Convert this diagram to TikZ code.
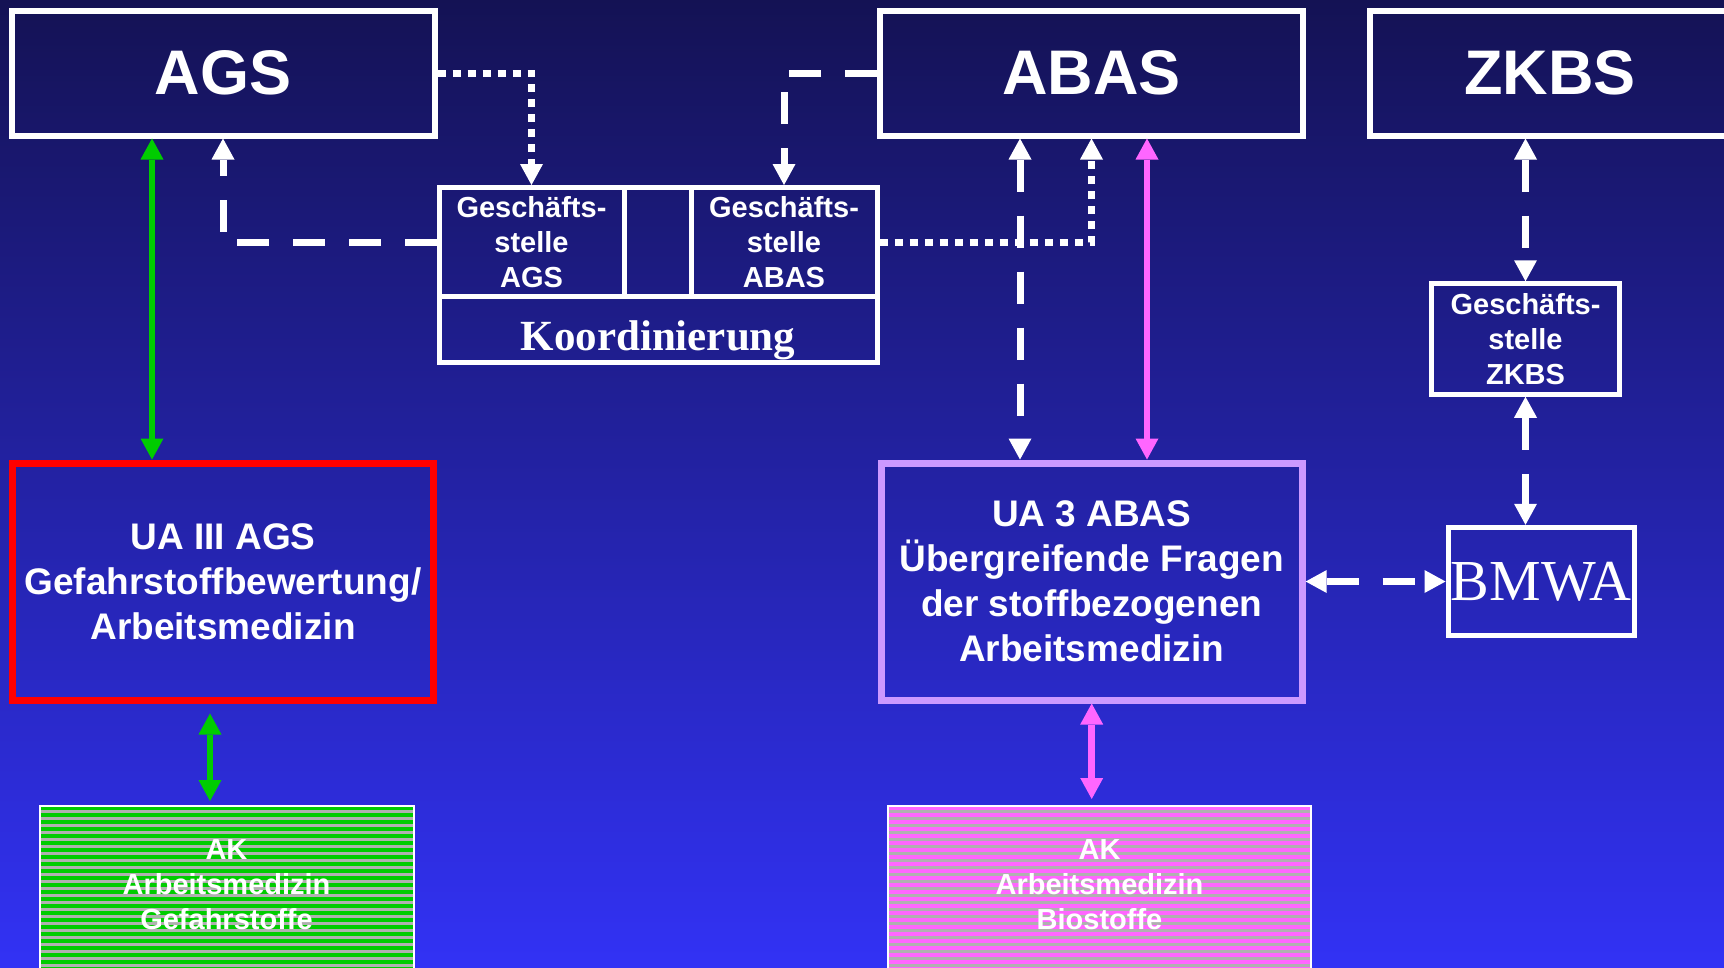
\documentclass[tikz,border=0pt]{standalone}
\usepackage{fontspec}
\setmainfont{Liberation Sans}
\newfontfamily\seriffont{Liberation Serif}
\usetikzlibrary{arrows.meta}

\definecolor{bgtop}{RGB}{20,18,84}
\definecolor{bgmid}{RGB}{38,36,182}
\definecolor{bgbot}{RGB}{50,50,245}
\definecolor{agsgreen}{RGB}{0,204,0}
\definecolor{abaspink}{RGB}{255,102,255}
\definecolor{uaviolet}{RGB}{204,153,255}
\definecolor{stripegrey}{RGB}{176,176,176}

\begin{document}
\begin{tikzpicture}[x=1pt,y=-1pt,
    >={Triangle[width=23pt,length=21pt,line width=0pt]},
    top node/.style={draw=white,line width=6pt,minimum width=423pt,minimum height=125pt,
      inner sep=0pt,text=white,font=\fontsize{63}{70}\selectfont\bfseries},
    office node/.style={draw=white,line width=5pt,minimum width=186pt,minimum height=109pt,
      inner sep=0pt,align=center,text=white,font=\fontsize{29}{35}\selectfont\bfseries},
    ua node/.style={line width=7pt,minimum width=421pt,minimum height=237pt,
      inner sep=0pt,align=center,text=white,font=\fontsize{37}{45}\selectfont\bfseries},
    ak node/.style={draw=white,line width=2pt,minimum height=170pt,inner sep=0pt,
      path picture={\foreach \k in {0,7,...,182}
        \fill[stripegrey] ([yshift=-\k*1pt-4pt]path picture bounding box.north west)
          rectangle ([yshift=-\k*1pt-7pt]path picture bounding box.north east);}},
    ak text/.style={align=center,text=white,font=\fontsize{29}{35}\selectfont\bfseries},
    white link/.style={draw=white,line width=7pt},
    dashed link/.style={white link,dash pattern=on 32pt off 24pt},
    dotted link/.style={white link,dash pattern=on 8pt off 7pt},
    green link/.style={draw=agsgreen,line width=6.5pt},
    pink link/.style={draw=abaspink,line width=6.5pt}]

    \useasboundingbox (0,0) rectangle (1724,967);
    \shade[top color=bgtop,middle color=bgmid,bottom color=bgbot] (0,0) rectangle (1724,967);

    % Define boxes
    \node[top node] (ags) at (223,73) {AGS};
    \node[top node] (abas) at (1091.5,73) {ABAS};
    \node[top node,minimum width=360pt] (zkbs) at (1550,73) {ZKBS};

    \node[office node,minimum width=185pt] (gsags) at (531.5,242) {Geschäfts-\\stelle\\AGS};
    \node[office node] (gsabas) at (784,242) {Geschäfts-\\stelle\\ABAS};
    \node[draw=white,line width=5pt,minimum width=438pt,minimum height=65.5pt,inner sep=0pt,
      text=white,font=\seriffont\fontsize{43}{50}\selectfont\bfseries] (koord) at (658,329.25) {\raisebox{-21pt}[0pt][0pt]{Koordinierung}};
    \node[office node,minimum width=188pt,minimum height=110.5pt] (gszkbs) at (1525.5,339) {Geschäfts-\\stelle\\ZKBS};
    \node[draw=white,line width=5pt,minimum width=186pt,minimum height=108.5pt,inner sep=0pt,
      text=white,font=\seriffont\fontsize{58}{64}\selectfont] (bmwa) at (1541,581.5) {\makebox[0pt]{BMWA}};

    \node[ua node,draw=red] (uaags) at (223,581.5) {UA III AGS\\Gefahrstoffbewertung/\\Arbeitsmedizin};
    \node[ua node,draw=uaviolet] (uaabas) at (1091.7,581.5) {UA 3 ABAS\\Übergreifende Fragen\\der stoffbezogenen\\Arbeitsmedizin};

    \node[ak node,fill=agsgreen,minimum width=374pt] (akgef) at (226.5,891) {};
    \node[ak node,fill=abaspink,minimum width=422.4pt] (akbio) at (1099.5,891) {};
    \node[ak text] (akgeftext) at (226.5,885) {AK\\Arbeitsmedizin\\Gefahrstoffe};
    \node[ak text] (akbiotext) at (1099.5,885) {AK\\Arbeitsmedizin\\Biostoffe};

    % Draw links
    \draw[white,line width=5pt] ([yshift=-2.5pt]gsags.north east) -- ([yshift=-2.5pt]gsabas.north west);
    \draw[dotted link,->] (ags.east) -| (gsags.north);
    \draw[dashed link,->] (gsags.west) -| (ags.south);
    \draw[dashed link,->] (abas.west) -| (gsabas.north);
    \draw[dotted link,->] (gsabas.east) -| (abas.south);
    \draw[dashed link,<->] ([xshift=-71.5pt]abas.south) -- ([xshift=-71.7pt]uaabas.north);
    \draw[pink link,<->] ([xshift=55.5pt]abas.south) -- ([xshift=55.3pt]uaabas.north);
    \draw[green link,<->] ([xshift=-71pt]ags.south) -- ([xshift=-71pt]uaags.north);
    \draw[green link,<->,shorten <=10pt,shorten >=4pt] ([xshift=-13pt]uaags.south) -- ([xshift=-13pt]uaags.south |- akgef.north);
    \draw[pink link,<->,shorten >=6pt] (uaabas.south) -- (uaabas.south |- akbio.north);
    \draw[dashed link,<->] (gszkbs.north |- zkbs.south) -- (gszkbs.north);
    \draw[dashed link,<->] (gszkbs.south) -- (gszkbs.south |- bmwa.north);
    \draw[dashed link,<->] (uaabas.east) -- (bmwa.west);

\end{tikzpicture}
\end{document}
